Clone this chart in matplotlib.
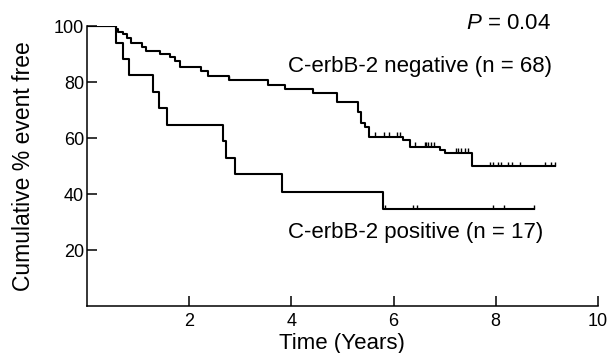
import matplotlib
matplotlib.use("Agg")
import matplotlib.pyplot as plt

plt.rcParams['font.family'] = ['Liberation Sans', 'DejaVu Sans']
plt.rcParams['mathtext.fontset'] = 'custom'
plt.rcParams['mathtext.rm'] = 'Liberation Sans'
plt.rcParams['mathtext.it'] = 'Liberation Sans:italic'

# C-erbB-2 negative (n = 68): step times (years) and % event free
neg_t = [0, 0.57, 0.61, 0.71, 0.79, 0.87, 1.07, 1.15, 1.43, 1.62, 1.72, 1.82,
         2.24, 2.37, 2.78, 3.55, 3.87, 4.43, 4.89, 5.31, 5.37, 5.45, 5.52,
         6.19, 6.32, 6.91, 7.00, 7.53, 9.16]
neg_s = [100, 98.8, 98.0, 97.0, 95.6, 94.0, 92.6, 91.2, 90.0, 88.8, 87.6, 85.5,
         84.0, 82.1, 80.7, 78.9, 77.4, 76.0, 73.0, 69.4, 65.5, 63.8, 60.5,
         59.3, 56.9, 55.8, 54.8, 50.0, 50.0]
neg_cens = [2.78, 5.64, 5.81, 5.91, 6.07, 6.12, 6.42, 6.61, 6.64, 6.67, 6.74,
            6.80, 7.23, 7.27, 7.33, 7.40, 7.46, 7.89, 7.95, 8.05, 8.11, 8.24,
            8.31, 8.47, 8.96, 9.09, 9.16]

# C-erbB-2 positive (n = 17)
pos_t = [0, 0.57, 0.71, 0.83, 1.30, 1.41, 1.56, 2.67, 2.73, 2.90, 3.81, 5.79, 8.75]
pos_s = [100, 94.1, 88.2, 82.4, 76.5, 70.6, 64.7, 58.8, 52.9, 47.1, 40.6, 34.5, 34.5]
pos_cens = [5.83, 6.39, 6.46, 7.94, 8.17, 8.75]

xticks = [2, 4, 6, 8, 10]
yticks = [20, 40, 60, 80, 100]


def level_at(ts, ss, x):
    v = ss[0]
    for t, s in zip(ts, ss):
        if t <= x:
            v = s
    return v


fig = plt.figure(figsize=(6.14, 3.53), dpi=100)
ax = fig.add_axes([0.1417, 0.1331, 0.832, 0.7932])

ax.step(neg_t, neg_s, where='post', color='black', lw=1.5)
ax.step(pos_t, pos_s, where='post', color='black', lw=1.5)

# censoring marks: short ticks pointing up from the curve
for ts, ss, cens in ((neg_t, neg_s, neg_cens), (pos_t, pos_s, pos_cens)):
    lv = [level_at(ts, ss, c) for c in cens]
    ax.vlines(cens, lv, [v + 1.6 for v in lv], color='black', lw=1.0)

ax.set_xlim(0, 10)
ax.set_ylim(0, 100)
ax.set_xticks(xticks)
ax.set_yticks(yticks)
ax.tick_params(direction='in', length=7, width=1.1, labelsize=13)
ax.tick_params(axis='x', pad=5)
ax.tick_params(axis='y', pad=2)
for sp in ('top', 'right'):
    ax.spines[sp].set_visible(False)
for sp in ('left', 'bottom'):
    ax.spines[sp].set_linewidth(1.1)

ax.set_xlabel('Time (Years)', fontsize=16, labelpad=2)
ax.set_ylabel('Cumulative % event free', fontsize=16.5, labelpad=14)

ax.text(3.93, 85.4, 'C-erbB-2 negative (n = 68)', fontsize=16,
        ha='left', va='center')
ax.text(3.93, 26.4, 'C-erbB-2 positive (n = 17)', fontsize=16,
        ha='left', va='center')
ax.text(9.08, 101, '$P$ = 0.04', fontsize=16, ha='right', va='center',
        clip_on=False)

fig.savefig('out.png', dpi=100)
